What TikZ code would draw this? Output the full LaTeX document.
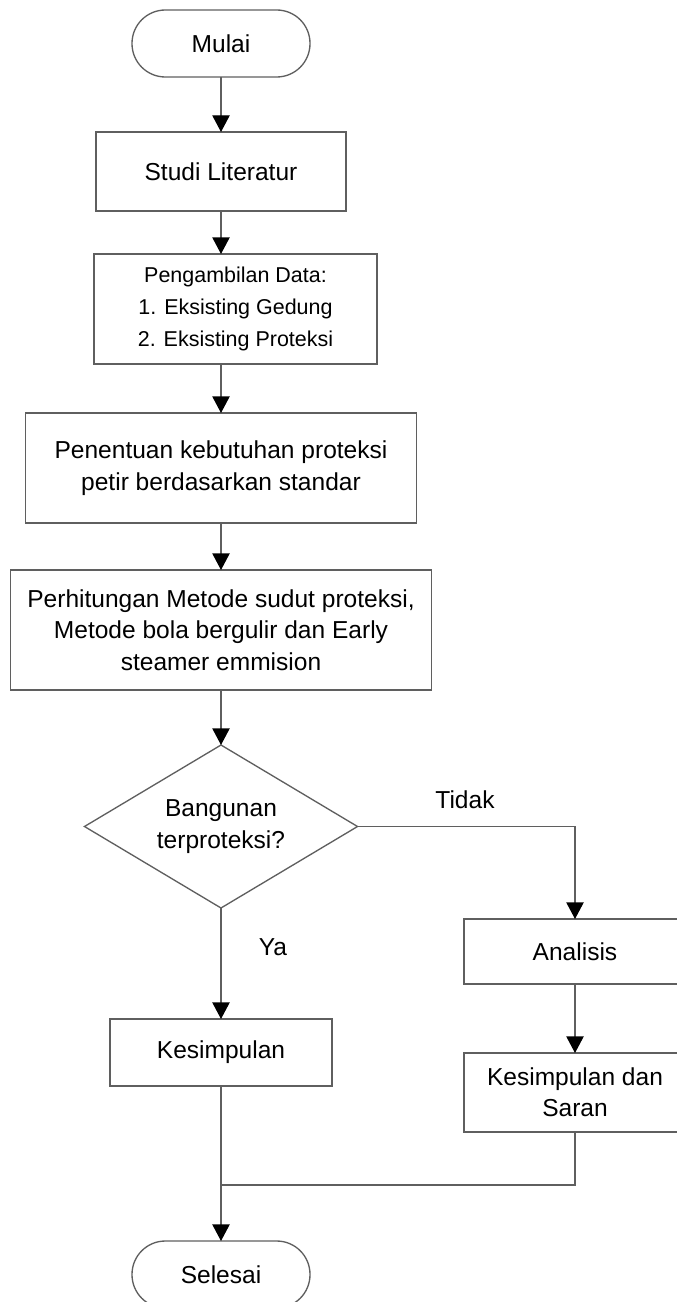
\documentclass[tikz,border=0pt]{standalone}
\usepackage{fontspec}
\setmainfont{Liberation Sans}
\usetikzlibrary{shapes.geometric,arrows.meta}
\definecolor{linegray}{RGB}{95,95,95}
\begin{document}
\begin{tikzpicture}[x=0.75pt,y=-0.75pt,
  every node/.style={font=\fontsize{18.4}{23.5}\selectfont, align=center, inner sep=0pt, outer sep=0pt},
  box/.style={draw=linegray, line width=1pt, rectangle},
  term/.style={draw=linegray, line width=1pt, rectangle, rounded corners=25pt, minimum width=133.5pt, minimum height=50.25pt},
  dec/.style={draw=linegray, line width=1pt, diamond, aspect=1.675, minimum width=204.75pt, minimum height=122.25pt},
  flow/.style={draw=linegray, line width=1pt, -{Triangle[length=12.5pt,width=13pt,color=black,fill=black]}}]
\useasboundingbox (0,0) rectangle (677,1302);
\clip (0,0) rectangle (677,1302);
\node[term] (mulai) at (221,43.5) {Mulai};
\node[box, minimum width=187.5pt, minimum height=59.25pt] (studi) at (221,171.5) {Studi Literatur};
\node[box, minimum width=212.25pt, minimum height=82.5pt, font=\fontsize{16.1}{24}\selectfont] (data) at (235.5,309) {Pengambilan Data:\\1. Eksisting Gedung\\2. Eksisting Proteksi};
\node[box, minimum width=293.25pt, minimum height=82.5pt] (standar) at (221,468) {Penentuan kebutuhan proteksi\\petir berdasarkan standar};
\node[box, minimum width=315.75pt, minimum height=90pt] (hitung) at (221,630) {Perhitungan Metode sudut proteksi,\\Metode bola bergulir dan Early\\steamer emmision};
\node[dec] (cek) at (221,826.5) {Bangunan\\terproteksi?};
\node[box, minimum width=166.5pt, minimum height=48.75pt] (analisis) at (575,951.5) {Analisis};
\node[box, minimum width=166.5pt, minimum height=50.25pt] (simpul) at (221,1052.5) {Kesimpulan};
\node[box, minimum width=166.5pt, minimum height=59.25pt] (saran) at (575,1092.5) {Kesimpulan dan\\Saran};
\node[term] (selesai) at (221,1274.5) {Selesai};
\node (tidak) at (465,800) {Tidak};
\node (ya) at (273,947) {Ya};
\coordinate (gabung) at (221,1185);
\draw[flow] (mulai) -- (studi);
\draw[flow] (studi) -- (studi.south |- data.north);
\draw[flow] (data.south -| studi.south) -- (standar);
\draw[flow] (standar) -- (hitung);
\draw[flow] (hitung) -- (cek);
\draw[flow] (cek.east) -| (analisis);
\draw[flow] (analisis) -- (saran);
\draw[flow] (cek) -- (simpul);
\draw[linegray, line width=1pt] (saran) |- (gabung);
\draw[flow] (simpul) -- (selesai);
\end{tikzpicture}
\end{document}
